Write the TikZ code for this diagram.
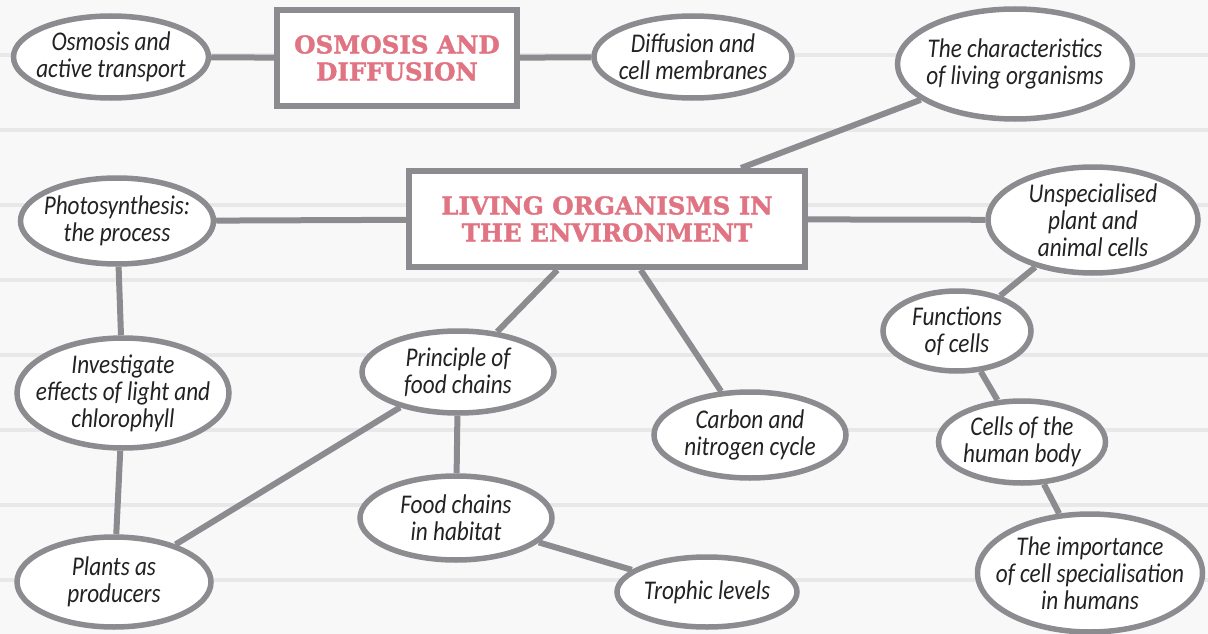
\documentclass[tikz,border=0pt]{standalone}
\usepackage{fontspec}
\usetikzlibrary{shapes.geometric}
\newfontfamily\handfont[FakeStretch=0.86]{Carlito}
\newfontfamily\titlefont[BoldFeatures={FakeBold=1.6}]{DejaVu Serif}
\definecolor{edgecol}{HTML}{8C8C90}
\definecolor{titlecol}{HTML}{E07482}
\definecolor{bgcol}{HTML}{F8F8F8}
\definecolor{stripecol}{HTML}{E8E8E8}
\definecolor{inkcol}{HTML}{222222}
\begin{document}
\begin{tikzpicture}[x=1pt,y=-1pt,
  oval/.style={ellipse, draw=edgecol, line width=5.5, fill=white, inner sep=0pt},
  hand/.style={font=\handfont\itshape\fontsize{27}{27}\selectfont, align=center, text=inkcol, inner sep=0pt},
  titlebox/.style={rectangle, draw=edgecol, line width=6, fill=white, inner sep=0pt},
  titletext/.style={font=\titlefont\bfseries\fontsize{24.5}{27}\selectfont, text=titlecol, align=center, inner sep=0pt},
  link/.style={draw=edgecol, line width=6},
  stripe/.style={draw=stripecol, line width=4}]
% background
\fill[bgcol] (0,0) rectangle (1208,634);
\useasboundingbox (0,0) rectangle (1208,634);
\foreach \yy in {55,130,205,280,355,430,505,580} {
  \draw[stripe] (0,\yy) -- (1208,\yy);
}
% title boxes
\node[titlebox, minimum width=240, minimum height=96] (box1) at (397,58) {};
\node[titletext] (box1t) at (box1) {OSMOSIS AND\\DIFFUSION};
\node[titlebox, minimum width=396, minimum height=96] (box2) at (607,219) {};
\node[titletext] (box2t) at (box2) {LIVING ORGANISMS IN\\THE ENVIRONMENT};
% ovals
\node[oval, minimum width=195, minimum height=82] (osm) at (111,57) {};
\node[hand] (osmt) at (osm) {Osmosis and\\active transport};
\node[oval, minimum width=198, minimum height=82] (dif) at (693,57) {};
\node[hand] (dift) at (dif) {Diffusion and\\cell membranes};
\node[oval, minimum width=235, minimum height=110] (cha) at (1015,64) {};
\node[hand] (chat) at (cha) {The characteristics\\of living organisms};
\node[oval, minimum width=193, minimum height=86] (pho) at (117,221) {};
\node[hand] (phot) at (pho) {Photosynthesis:\\the process};
\node[oval, minimum width=210, minimum height=106] (uns) at (1093,220) {};
\node[hand] (unst) at (uns) {Unspecialised\\plant and\\animal cells};
\node[oval, minimum width=148, minimum height=80] (fun) at (957,331) {};
\node[hand] (funt) at (fun) {Functions\\of cells};
\node[oval, minimum width=212, minimum height=110] (inv) at (123,393) {};
\node[hand] (invt) at (inv) {Investigate\\effects of light and\\chlorophyll};
\node[oval, minimum width=192, minimum height=82] (pri) at (458,372) {};
\node[hand] (prit) at (pri) {Principle of\\food chains};
\node[oval, minimum width=192, minimum height=86] (car) at (750,435) {};
\node[hand] (cart) at (car) {Carbon and\\nitrogen cycle};
\node[oval, minimum width=167, minimum height=82] (cel) at (1022,442) {};
\node[hand] (celt) at (cel) {Cells of the\\human body};
\node[oval, minimum width=192, minimum height=84] (hab) at (456,518) {};
\node[hand] (habt) at (hab) {Food chains\\in habitat};
\node[oval, minimum width=194, minimum height=90] (pla) at (114,582) {};
\node[hand] (plat) at (pla) {Plants as\\producers};
\node[oval, minimum width=180, minimum height=70] (tro) at (707,592) {};
\node[hand] (trot) at (tro) {Trophic levels};
\node[oval, minimum width=225, minimum height=118] (imp) at (1090,573) {};
\node[hand] (impt) at (imp) {The importance\\of cell specialisation\\in humans};
% connectors
\draw[link] (osm) -- (box1);
\draw[link] (box1) -- (dif);
\draw[link] (box2) -- (cha);
\draw[link] (box2) -- (pho);
\draw[link] (box2) -- (uns);
\draw[link] (box2) -- (pri);
\draw[link] (box2) -- (car);
\draw[link] (pho) -- (inv);
\draw[link] (inv) -- (pla);
\draw[link] (pri) -- (pla);
\draw[link] (pri) -- (hab);
\draw[link] (hab) -- (tro);
\draw[link] (uns) -- (fun);
\draw[link] (fun) -- (cel);
\draw[link] (cel) -- (imp);
\end{tikzpicture}
\end{document}
